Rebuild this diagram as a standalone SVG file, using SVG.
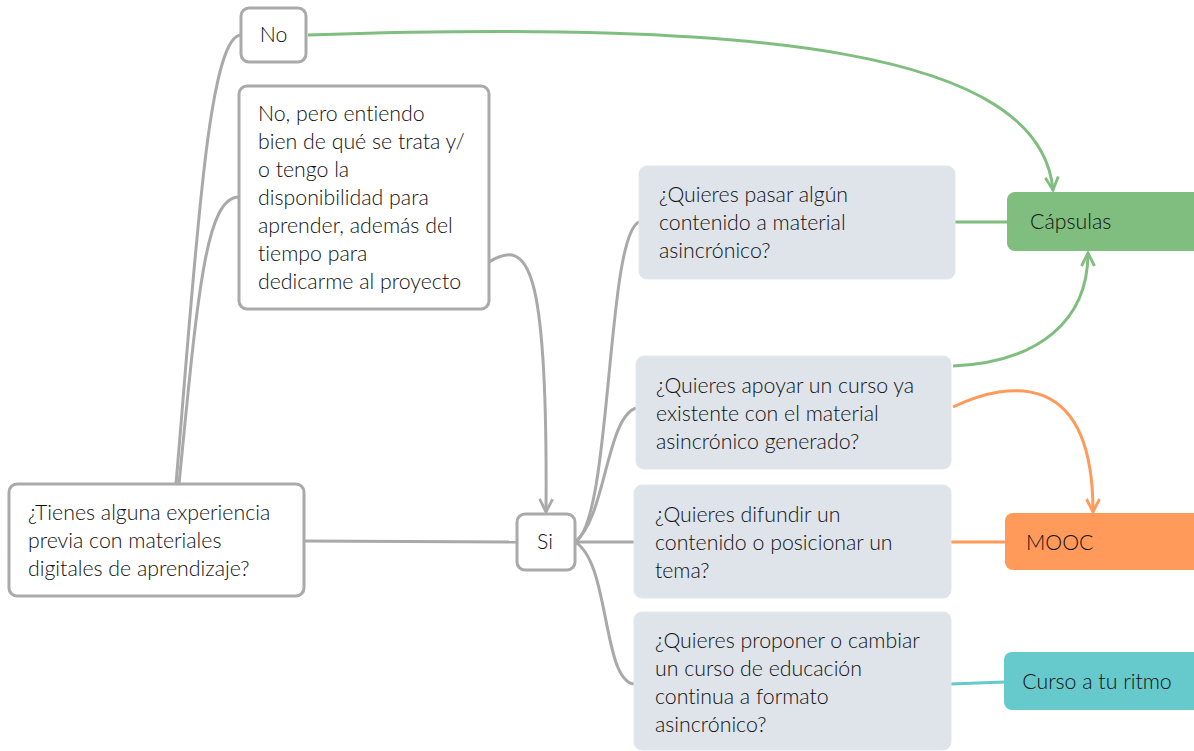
<svg xmlns="http://www.w3.org/2000/svg" width="1194" height="751" viewBox="0 0 1194 751">
<defs>
<style>
.t{font-family:Lato,"Noto Sans","Liberation Sans",sans-serif;font-size:21.3px;font-weight:300;fill:#111;font-variant-ligatures:none}
.w{fill:#fff;stroke:#aaaaaa;stroke-width:3}
.q{fill:#dfe4ea;stroke:#e3e7ec;stroke-width:1}
.g{fill:none;stroke:#a9a9a9;stroke-width:3}
.gr{fill:none;stroke:#80be80;stroke-width:3}
.or{fill:none;stroke:#ff9a5a;stroke-width:3}
.te{fill:none;stroke:#66c9cc;stroke-width:3}
</style>
<marker id="ag" viewBox="0 0 16 16" refX="14" refY="8" markerWidth="16" markerHeight="16" markerUnits="userSpaceOnUse" orient="auto"><path d="M1,1.5 L14,8 L1,14.5" fill="none" stroke="#a9a9a9" stroke-width="2.8"/></marker>
<marker id="agr" viewBox="0 0 16 16" refX="14" refY="8" markerWidth="16" markerHeight="16" markerUnits="userSpaceOnUse" orient="auto"><path d="M1,1.5 L14,8 L1,14.5" fill="none" stroke="#80be80" stroke-width="2.8"/></marker>
<marker id="aor" viewBox="0 0 16 16" refX="14" refY="8" markerWidth="16" markerHeight="16" markerUnits="userSpaceOnUse" orient="auto"><path d="M1,1.5 L14,8 L1,14.5" fill="none" stroke="#ff9a5a" stroke-width="2.8"/></marker>
</defs>
<rect width="1194" height="751" fill="#fff"/>
<g id="connectors">
<path class="g" d="M176,484 C196,250 208,36 241,35"/>
<path class="g" d="M179,484 C198,290 206,197 239,197"/>
<path class="g" d="M304,541 L517,542"/>
<path class="g" d="M489,262 C528,238 548,262 546,512" marker-end="url(#ag)"/>
<path class="g" d="M575,542 C612,522 606,236 639,222"/>
<path class="g" d="M575,542 C606,518 606,418 636,408"/>
<path class="g" d="M575,542 L634,542"/>
<path class="g" d="M575,542 C610,562 602,680 634,684"/>
<path class="gr" d="M308,35 C760,20 1040,50 1053,190" marker-end="url(#agr)"/>
<path class="gr" d="M955,222 L1008,222"/>
<path class="gr" d="M953,366 C1040,362 1088,320 1088,253" marker-end="url(#agr)"/>
<path class="or" d="M953,407 C1010,380 1093,370 1093,512" marker-end="url(#aor)"/>
<path class="or" d="M951,542 L1006,542"/>
<path class="te" d="M951,684 L1005,682"/>
</g>
<g id="n-no"><rect class="w" x="241" y="8" width="65" height="54" rx="8"/><text class="t" x="273.5" y="42" text-anchor="middle">No</text></g>
<g id="n-nopero"><rect class="w" x="239" y="86" width="250" height="223" rx="8"/>
<text class="t"><tspan x="258" y="121">No, pero entiendo</tspan><tspan x="258" y="149">bien de qué se trata y/</tspan><tspan x="258" y="177">o tengo la</tspan><tspan x="258" y="205">disponibilidad para</tspan><tspan x="258" y="233">aprender, además del</tspan><tspan x="258" y="261">tiempo para</tspan><tspan x="258" y="289">dedicarme al proyecto</tspan></text></g>
<g id="n-root"><rect class="w" x="9" y="484" width="295" height="112" rx="8"/>
<text class="t"><tspan x="28" y="520">¿Tienes alguna experiencia</tspan><tspan x="28" y="548">previa con materiales</tspan><tspan x="28" y="576">digitales de aprendizaje?</tspan></text></g>
<g id="n-si"><rect class="w" x="517" y="514" width="58" height="56" rx="8"/><text class="t" x="545" y="549" text-anchor="middle">Si</text></g>
<g id="n-q1"><rect class="q" x="639" y="166" width="316" height="113" rx="8"/>
<text class="t"><tspan x="659" y="202">¿Quieres pasar algún</tspan><tspan x="659" y="230">contenido a material</tspan><tspan x="659" y="258">asincrónico?</tspan></text></g>
<g id="n-q2"><rect class="q" x="636" y="356" width="315" height="113" rx="8"/>
<text class="t"><tspan x="656" y="393">¿Quieres apoyar un curso ya</tspan><tspan x="656" y="421">existente con el material</tspan><tspan x="656" y="449">asincrónico generado?</tspan></text></g>
<g id="n-q3"><rect class="q" x="634" y="485" width="317" height="113" rx="8"/>
<text class="t"><tspan x="655" y="522">¿Quieres difundir un</tspan><tspan x="655" y="550">contenido o posicionar un</tspan><tspan x="655" y="578">tema?</tspan></text></g>
<g id="n-q4"><rect class="q" x="634" y="612" width="317" height="138" rx="8"/>
<text class="t"><tspan x="655" y="648">¿Quieres proponer o cambiar</tspan><tspan x="655" y="676">un curso de educación</tspan><tspan x="655" y="704">continua a formato</tspan><tspan x="655" y="732">asincrónico?</tspan></text></g>
<g id="n-capsulas"><rect x="1007" y="192" width="195" height="59" rx="8" fill="#80be80"/><text class="t" x="1030" y="229">Cápsulas</text></g>
<g id="n-mooc"><rect x="1005" y="513" width="197" height="57" rx="8" fill="#ff9a5a"/><text class="t" x="1026" y="550">MOOC</text></g>
<g id="n-curso"><rect x="1004" y="652" width="198" height="58" rx="8" fill="#66c9cc"/><text class="t" x="1097" y="689" text-anchor="middle">Curso a tu ritmo</text></g>
</svg>
